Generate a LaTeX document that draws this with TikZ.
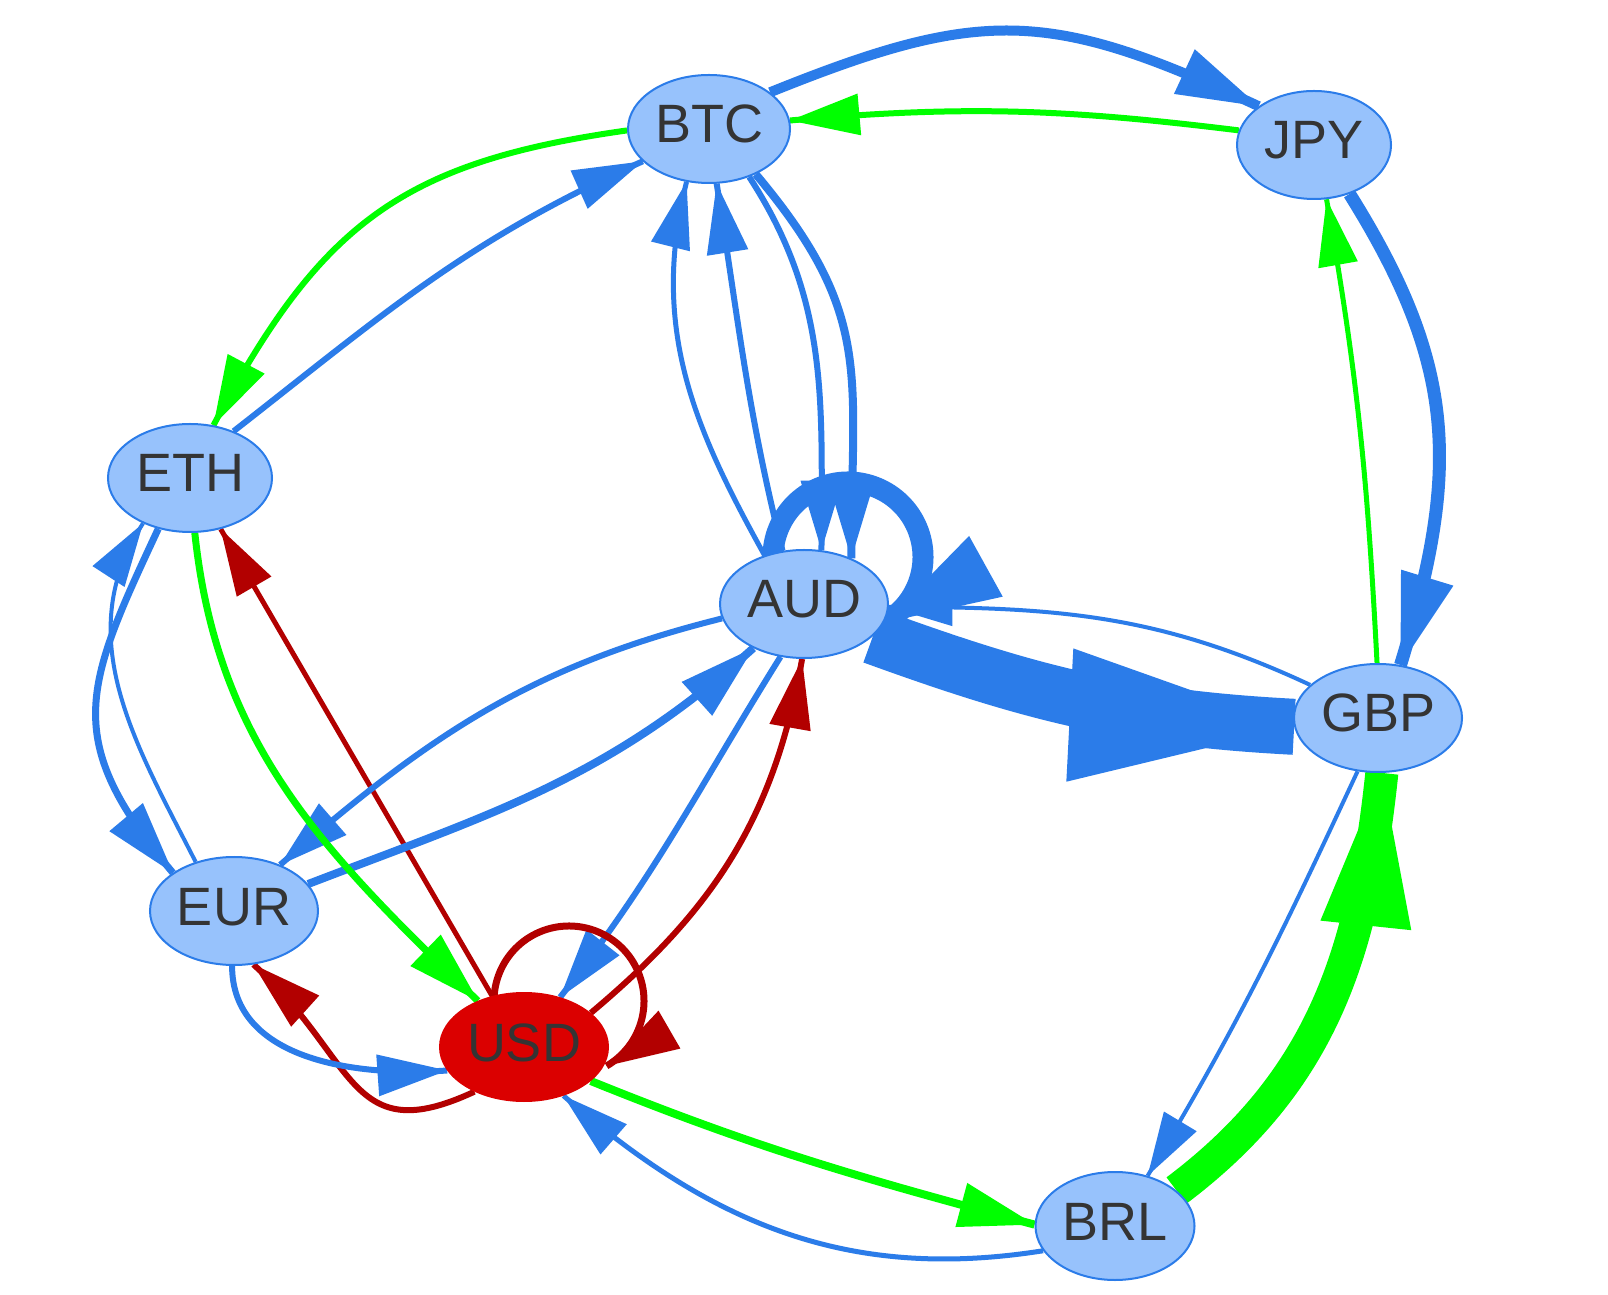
\documentclass[tikz,border=0pt]{standalone}
\usepackage{fontspec}
\setmainfont{Liberation Sans}
\usetikzlibrary{arrows.meta,backgrounds,calc,shapes.geometric}
\definecolor{nfill}{HTML}{97C2FC}
\definecolor{nborder}{HTML}{2B7CE9}
\definecolor{eblue}{HTML}{2B7CE9}
\definecolor{egreen}{HTML}{00FF00}
\definecolor{ered}{HTML}{B20000}
\definecolor{ufill}{HTML}{DB0000}
\definecolor{txt}{HTML}{343434}
\tikzset{
  cur/.style={shape=ellipse, fill=nfill, draw=nborder, line width=2pt, inner sep=0pt,
    minimum height=108pt, minimum width=#1, text=txt,
    font=\fontsize{54}{60}\selectfont, text height=38pt, text depth=10pt},
  usd/.style={cur=#1, fill=ufill, draw=ufill},
  ed/.style 2 args={draw=#1, line width=#2, draw opacity=0,
    -{Triangle[length=51pt 3.1, width=31pt 1.83, line width=0pt]},
    preaction={draw=#1, line width=#2, draw opacity=1, arrows=-}},
  bl/.style={ed={eblue}{#1}},
  gr/.style={ed={egreen}{#1}},
  rd/.style={ed={ered}{#1}},
}
\begin{document}
\begin{tikzpicture}[x=1pt,y=1pt]
\useasboundingbox (0,0) rectangle (1608,1294);
% nodes
\node[cur=162pt] (BTC) at (709,1165) {BTC};
\node[cur=154pt] (JPY) at (1314,1149) {JPY};
\node[cur=164pt] (ETH) at (190,816) {ETH};
\node[cur=168pt] (AUD) at (804,690) {AUD};
\node[cur=168pt] (GBP) at (1378,576) {GBP};
\node[cur=168pt] (EUR) at (234,383) {EUR};
\node[usd=168pt] (USD) at (524,247) {USD};
\node[cur=159pt] (BRL) at (1115,68) {BRL};
\begin{pgfonlayer}{background}
\fill[white] (0,0) rectangle (1608,1294);
% BTC / JPY / ETH
\draw[bl=10] (BTC.31) to[out=22, in=155, looseness=1.2] (JPY.145);
\draw[gr=6] (JPY.169) to[out=173, in=5] (BTC.6);
\draw[gr=6] (BTC.181) to[out=188, in=62, looseness=1.15] (ETH.66);
\draw[bl=6] (ETH.47) to[out=38, in=204] (BTC.206);
% AUD <-> BTC
\draw[bl=5] (AUD.129) to[out=119, in=256] (BTC.247);
\draw[bl=6] (AUD.112) to[out=104, in=279] (BTC.278);
\draw[bl=6] (BTC.310) to[out=-57, in=90] (AUD.72);
\draw[bl=8] (BTC.316) to[out=-50, in=90, looseness=1.2] (AUD.44);
% AUD self loop
\draw[bl=21] ($(AUD)+(44,47)$) ++(200:75) arc[start angle=200, end angle=-61, radius=75];
% AUD <-> GBP
\draw[bl=56] (AUD.-25) to[out=-20, in=177] (GBP.186);
\draw[bl=4] (GBP.154) to[out=155, in=0] (AUD.-2);
% JPY <-> GBP
\draw[bl=13] (JPY.-54) to[out=-58, in=73, looseness=1.1] (GBP.67);
\draw[gr=5] (GBP.91) to[out=93, in=-80] (JPY.-77);
% GBP <-> BRL
\draw[bl=4] (GBP.-111) to[out=-115, in=59] (BRL.57);
\draw[gr=33] (BRL.30) to[out=37, in=-96] (GBP.-86);
% USD <-> BRL
\draw[gr=8] (USD.-27) to[out=-22, in=165] (BRL.179);
\draw[bl=5] (BRL.199) to[out=189, in=-41] (USD.-51);
% AUD <-> USD
\draw[bl=6] (AUD.246) to[out=238, in=52] (USD.54);
\draw[rd=6] (USD.27) to[out=40, in=-100] (AUD.-92);
% USD -> ETH, EUR
\draw[rd=5] (USD.122) -- (ETH.-59);
\draw[rd=6] (USD.222) to[out=205, in=-42, looseness=1.4] (EUR.-70);
\draw[bl=6] (EUR.-92) to[out=-90, in=184] (USD.197);
% EUR <-> AUD
\draw[bl=8] (EUR.20) to[out=21, in=222] (AUD.221);
\draw[bl=6] (AUD.190) to[out=194, in=41] (EUR.45);
% ETH <-> EUR
\draw[bl=7] (ETH.238) to[out=245, in=130, looseness=1.3] (EUR.148);
\draw[bl=4] (EUR.128) to[out=117, in=237] (ETH.224);
% ETH -> USD
\draw[gr=7] (ETH.-85) to[out=-84, in=136] (USD.135);
% USD self loop
\draw[rd=7] ($(USD)+(45,46)$) ++(200:75) arc[start angle=200, end angle=-60, radius=75];
\end{pgfonlayer}
\end{tikzpicture}
\end{document}
